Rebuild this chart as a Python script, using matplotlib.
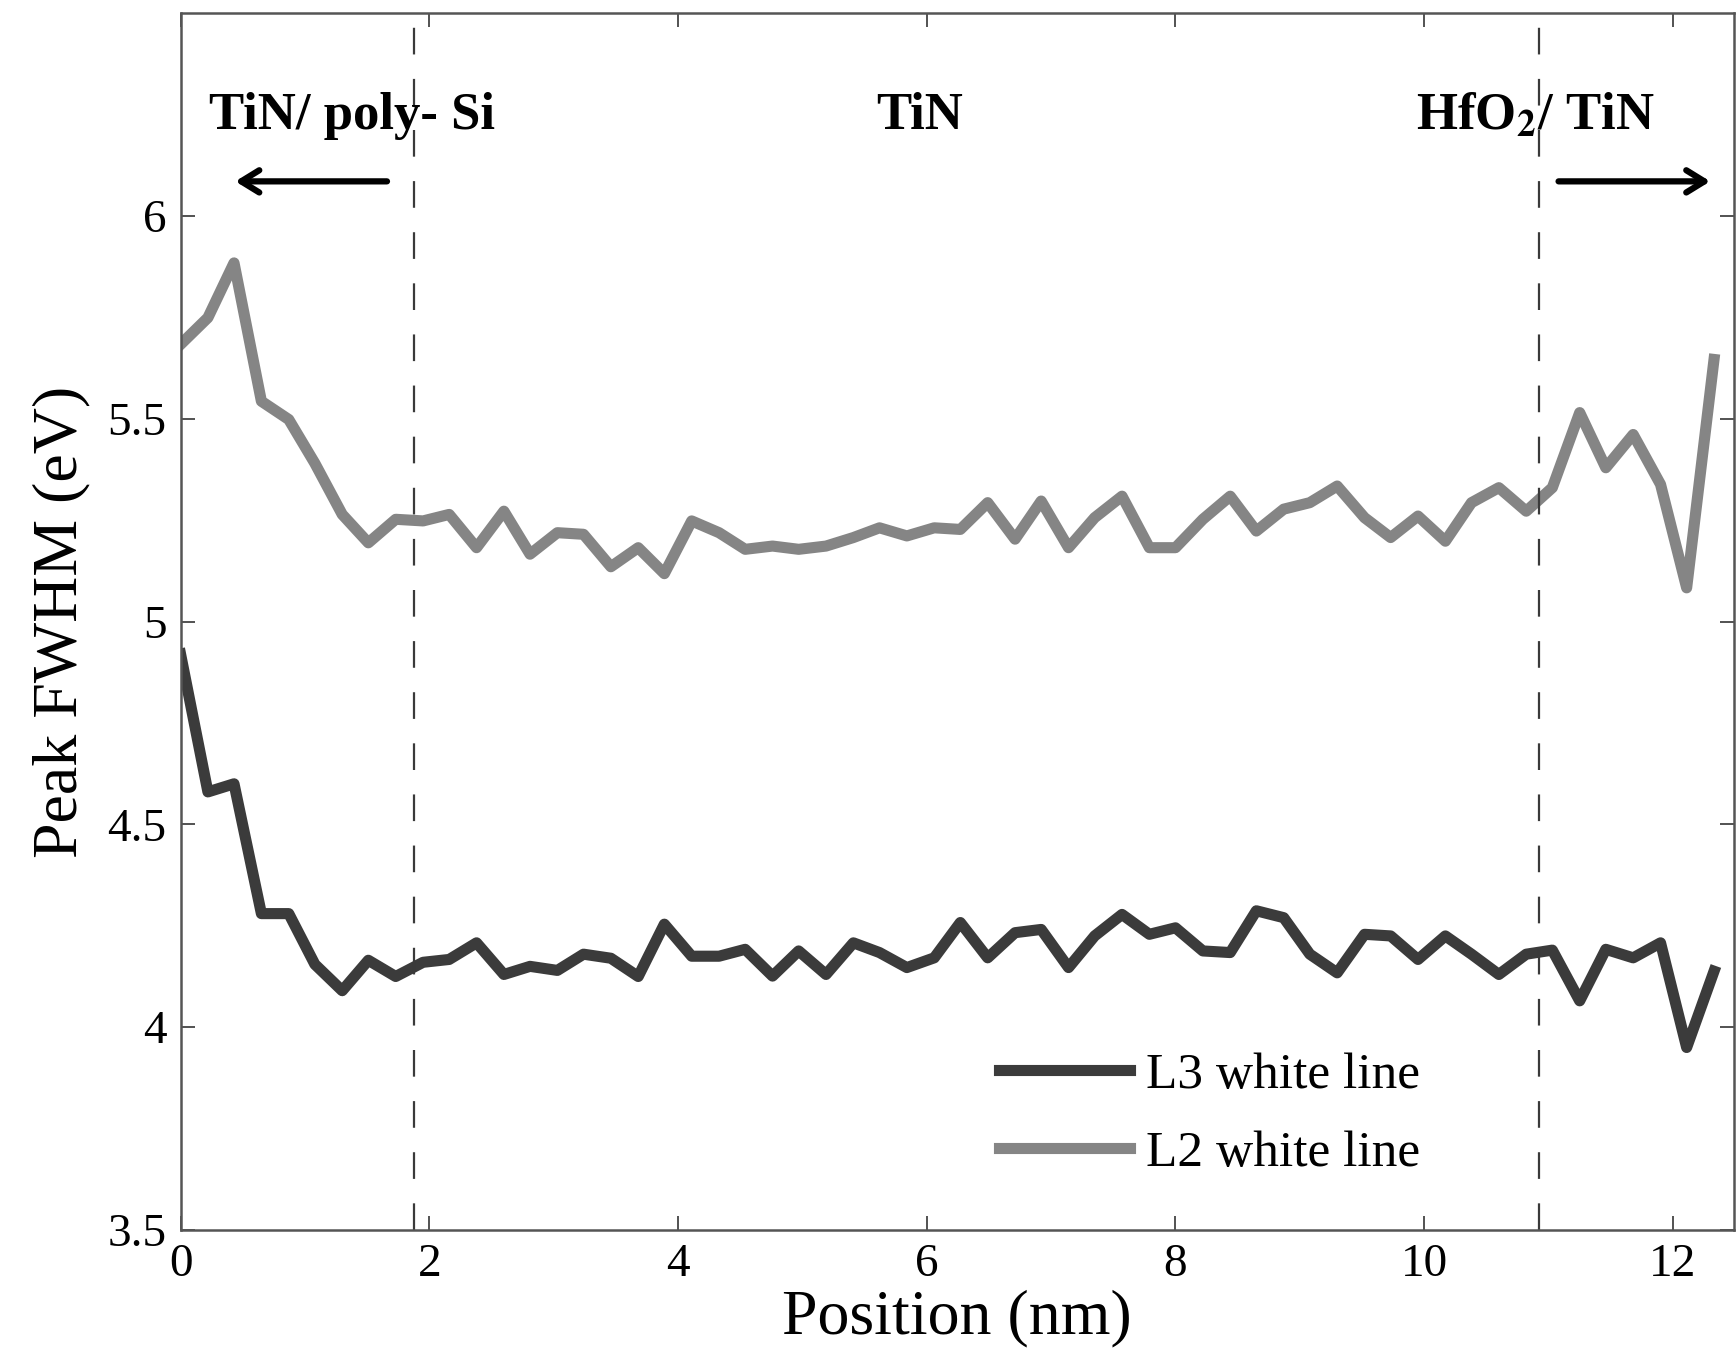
import matplotlib
matplotlib.use("Agg")
import matplotlib.pyplot as plt

plt.rcParams['font.family'] = ['Liberation Serif', 'DejaVu Serif']
plt.rcParams['mathtext.fontset'] = 'stix'

# Data
position = [0.00, 0.22, 0.43, 0.65, 0.87, 1.08, 1.30, 1.51, 1.73, 1.95,
            2.16, 2.38, 2.60, 2.81, 3.03, 3.24, 3.46, 3.68, 3.89, 4.11,
            4.33, 4.54, 4.76, 4.97, 5.19, 5.41, 5.62, 5.84, 6.06, 6.27,
            6.49, 6.71, 6.92, 7.14, 7.35, 7.57, 7.79, 8.00, 8.22, 8.44,
            8.65, 8.87, 9.08, 9.30, 9.52, 9.73, 9.95, 10.17, 10.38, 10.60,
            10.82, 11.03, 11.25, 11.46, 11.68, 11.90, 12.11, 12.33]

l3_fwhm = [4.92, 4.58, 4.60, 4.28, 4.28, 4.155, 4.09, 4.165, 4.125, 4.16,
           4.167, 4.208, 4.13, 4.15, 4.14, 4.18, 4.17, 4.125, 4.254, 4.175,
           4.175, 4.192, 4.126, 4.188, 4.13, 4.208, 4.184, 4.147, 4.171, 4.258,
           4.171, 4.233, 4.241, 4.147, 4.225, 4.278, 4.229, 4.245, 4.188, 4.184,
           4.287, 4.27, 4.18, 4.134, 4.229, 4.225, 4.167, 4.225, 4.18, 4.13,
           4.18, 4.19, 4.065, 4.192, 4.171, 4.208, 3.95, 4.138]

l2_fwhm = [5.683, 5.749, 5.884, 5.543, 5.498, 5.39, 5.264, 5.194, 5.252, 5.248,
           5.264, 5.182, 5.272, 5.166, 5.219, 5.215, 5.135, 5.182, 5.118, 5.248,
           5.219, 5.178, 5.186, 5.178, 5.186, 5.207, 5.231, 5.211, 5.231, 5.227,
           5.293, 5.203, 5.297, 5.182, 5.256, 5.309, 5.182, 5.182, 5.252, 5.309,
           5.223, 5.277, 5.293, 5.334, 5.256, 5.207, 5.260, 5.198, 5.293, 5.330,
           5.272, 5.330, 5.515, 5.379, 5.461, 5.338, 5.083, 5.646]

series_labels = ["L3 white line", "L2 white line"]
interfaces = [1.88, 10.92]
region_labels = ["TiN/ poly- Si", "TiN", r"HfO$_{\mathbf{2}}$/ TiN"]
region_x = [1.38, 5.94, 10.89]

fig = plt.figure(figsize=(17.36, 13.69), dpi=100)
ax = fig.add_axes([0.104, 0.1015, 0.8948, 0.889])

ax.plot(position, l3_fwhm, color="#3b3b3b", lw=8, solid_joinstyle="round",
        label=series_labels[0])
ax.plot(position, l2_fwhm, color="#858585", lw=8, solid_joinstyle="round",
        label=series_labels[1])

for xv in interfaces:
    ax.axvline(xv, color="#3a3a3a", lw=1.6, linestyle=(0, (12, 11)))

ax.set_xlim(0, 12.49)
ax.set_ylim(3.5, 6.5)
ax.set_xticks([0, 2, 4, 6, 8, 10, 12])
ax.set_xticklabels(["0", "2", "4", "6", "8", "10", "12"])
ax.set_yticks([3.5, 4, 4.5, 5, 5.5, 6])
ax.set_yticklabels(["3.5", "4", "4.5", "5", "5.5", "6"])

ax.tick_params(direction="in", length=10, width=1.3, top=True, right=True,
               labelsize=34, color="#444444", pad=10)
for s in ax.spines.values():
    s.set_color("#555555")
    s.set_linewidth(1.8)

ax.set_xlabel("Position (nm)", fontsize=46, labelpad=2)
ax.set_ylabel("Peak FWHM (eV)", fontsize=46, labelpad=12)

for lbl, xv in zip(region_labels, region_x):
    ax.text(xv, 6.245, lbl, ha="center", va="center", fontsize=38,
            fontweight="bold")

astyle = "->,head_length=1.3,head_width=0.8"
ax.annotate("", xy=(0.44, 6.085), xytext=(1.66, 6.085),
            arrowprops=dict(arrowstyle=astyle, color="black", lw=4.5,
                            shrinkA=0, shrinkB=0))
ax.annotate("", xy=(12.30, 6.085), xytext=(11.08, 6.085),
            arrowprops=dict(arrowstyle=astyle, color="black", lw=4.5,
                            shrinkA=0, shrinkB=0))

leg = ax.legend(loc="center left", bbox_to_anchor=(0.527, 0.095), frameon=False,
                fontsize=37, handlelength=2.55, handletextpad=0.3,
                labelspacing=0.6, borderpad=0, borderaxespad=0)

fig.savefig("out.png", dpi=100)
